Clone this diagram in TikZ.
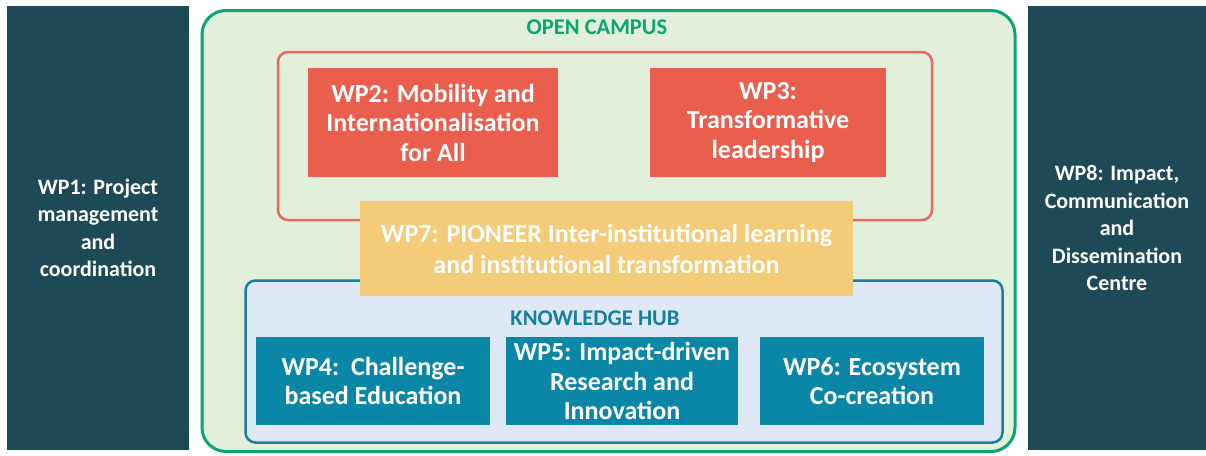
\documentclass[tikz,border=0pt]{standalone}
\usepackage{fontspec}
\setmainfont{Carlito}
\definecolor{darkteal}{HTML}{1E4A57}
\definecolor{campusgreen}{HTML}{0AA572}
\definecolor{campusfill}{HTML}{E2EFDA}
\definecolor{redbox}{HTML}{EA5E4E}
\definecolor{redline}{HTML}{E8695E}
\definecolor{yellowbox}{HTML}{F4CB78}
\definecolor{hubfill}{HTML}{DEE9F5}
\definecolor{hubline}{HTML}{17809E}
\definecolor{tealbox}{HTML}{0A86A6}
\begin{document}
\begin{tikzpicture}[x=1pt,y=-1pt,
  sidebox/.style={fill=darkteal,draw=none,text=white,align=center,
    font=\bfseries\fontsize{22}{27.5}\selectfont,inner sep=0pt},
  wpbox/.style={draw=none,text=white,align=center,
    font=\bfseries\fontsize{26}{29.5}\selectfont,inner sep=0pt},
  frame/.style={rectangle,inner sep=0pt},
  heading/.style={font=\bfseries\fontsize{22.5}{24}\selectfont,inner sep=0pt}]
\useasboundingbox (0,0) rectangle (1206,455);
\fill[white] (0,0) rectangle (1206,455);
% side boxes
\node[sidebox,minimum width=182pt,minimum height=444pt] (wp1) at (98,228)
  {WP1: Project\\management\\and\\coordination};
\node[sidebox,minimum width=178pt,minimum height=444pt] (wp8) at (1117,228)
  {WP8: Impact,\\Communication\\and\\Dissemination\\Centre};
% open campus
\node[frame,draw=campusgreen,fill=campusfill,line width=3pt,rounded corners=24pt,
  minimum width=813pt,minimum height=441pt] (campus) at (608.5,231) {};
\node[heading,text=campusgreen] (campuslbl) at (597,27) {OPEN CAMPUS};
% red outline
\node[frame,draw=redline,line width=2.5pt,rounded corners=10pt,
  minimum width=654pt,minimum height=168pt] (redframe) at (605,136) {};
\node[wpbox,fill=redbox,minimum width=250pt,minimum height=109pt] (wp2) at (433,122.5)
  {WP2: Mobility and\\Internationalisation\\for All};
\node[wpbox,fill=redbox,minimum width=236pt,minimum height=109pt] (wp3) at (768,122.5)
  {WP3:\\Transformative\\leadership};
% knowledge hub
\node[frame,draw=hubline,fill=hubfill,line width=2.5pt,rounded corners=10pt,
  minimum width=757pt,minimum height=162pt] (hub) at (624,361.5) {};
\node[heading,text=hubline] (hublbl) at (595,318) {KNOWLEDGE HUB};
\node[wpbox,fill=tealbox,minimum width=234pt,minimum height=88pt] (wp4) at (373,381)
  {WP4:\ \ Challenge-\\based Education};
\node[wpbox,fill=tealbox,minimum width=232pt,minimum height=88pt] (wp5) at (622,381)
  {WP5: Impact-driven\\Research and\\Innovation};
\node[wpbox,fill=tealbox,minimum width=224pt,minimum height=88pt] (wp6) at (872,381)
  {WP6: Ecosystem\\Co-creation};
% WP7 on top
\node[wpbox,fill=yellowbox,minimum width=493pt,minimum height=95pt,
  font=\bfseries\fontsize{26}{31}\selectfont] (wp7) at (606.5,248.5)
  {WP7: PIONEER Inter-institutional learning\\and institutional transformation};
\end{tikzpicture}
\end{document}
